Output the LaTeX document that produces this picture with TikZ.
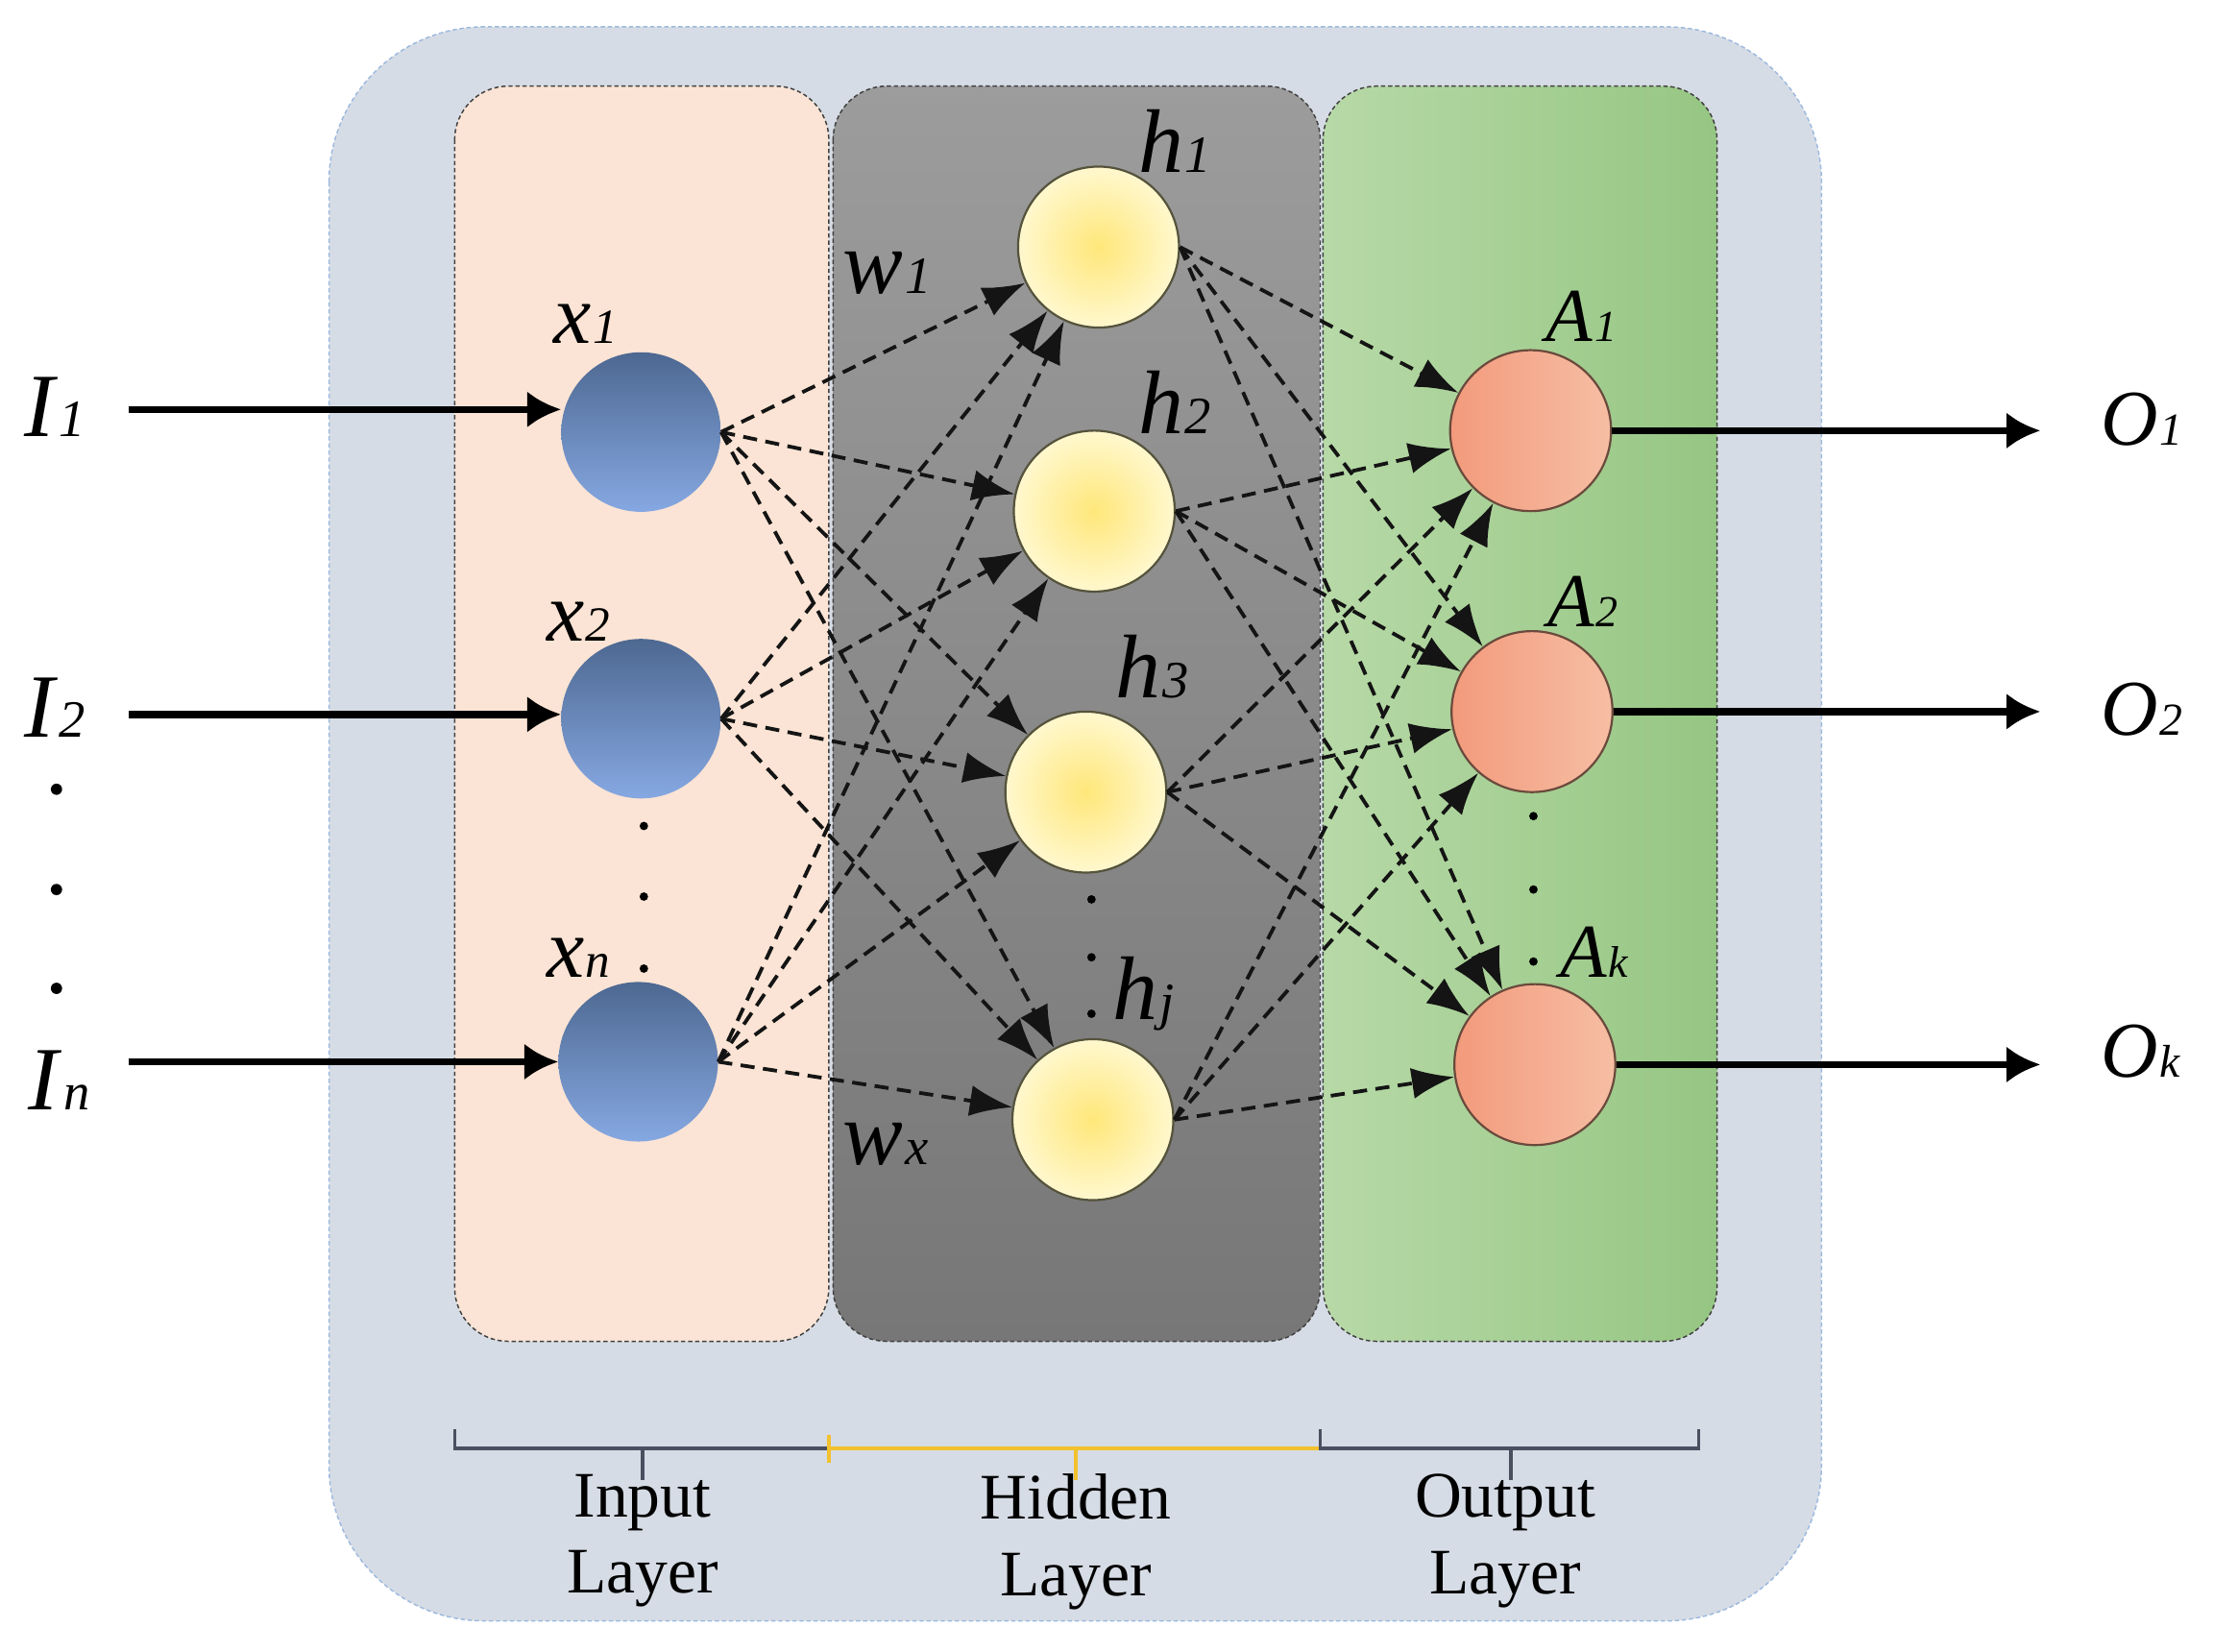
\documentclass[tikz,border=0pt]{standalone}
\usepackage{fontspec}
\setmainfont{Liberation Serif}
\usepackage{graphicx}
\usepackage{tikz}
\usetikzlibrary{arrows.meta}

\definecolor{bgouter}{HTML}{D6DCE5}
\definecolor{bgedge}{HTML}{9DB9DF}
\definecolor{inpanel}{HTML}{FBE4D5}
\definecolor{hidtop}{HTML}{9C9C9C}
\definecolor{hidbot}{HTML}{777777}
\definecolor{outleft}{HTML}{B7D9A7}
\definecolor{outright}{HTML}{96C683}
\definecolor{xtop}{HTML}{4D6891}
\definecolor{xbot}{HTML}{86A8E2}
\definecolor{hin}{HTML}{FFE77A}
\definecolor{hout}{HTML}{FFF8CE}
\definecolor{hedge}{HTML}{55533C}
\definecolor{aleft}{HTML}{F39A7C}
\definecolor{aright}{HTML}{F6BEA4}
\definecolor{aedge}{HTML}{6A4A3C}
\definecolor{bracegray}{HTML}{4A5060}
\definecolor{braceyellow}{HTML}{F2C12E}

\newcommand{\lsub}[2]{\textit{#1}\kern1pt\scalebox{0.58}{\textit{#2}}}

\tikzset{
    panel/.style={draw=black!75, line width=1pt, dash pattern=on 3pt off 2pt, rounded corners=38pt},
    xnode/.style={circle, minimum size=113pt, inner sep=0pt, top color=xtop, bottom color=xbot},
    hnode/.style={circle, minimum size=114pt, inner sep=0pt, draw=hedge, line width=1.5pt, inner color=hin, outer color=hout},
    anode/.style={circle, minimum size=114pt, inner sep=0pt, draw=aedge, line width=1.5pt, left color=aleft, right color=aright},
    conn/.style={-{Latex[length=30pt,width=22pt]}, line width=2.6pt, dash pattern=on 10pt off 6pt, draw=black!92},
    bigarrow/.style={-{Latex[length=24pt,width=26pt]}, line width=5pt},
    lbl/.style={inner sep=0pt, anchor=base west},
    ilab/.style={lbl, font=\fontsize{64}{70}\selectfont},
    olab/.style={lbl, font=\fontsize{56}{60}\selectfont},
    xlab/.style={lbl, font=\fontsize{60}{64}\selectfont},
    hlab/.style={lbl, font=\fontsize{64}{70}\selectfont},
    wlab/.style={lbl, font=\fontsize{64}{70}\selectfont},
    alab/.style={lbl, font=\fontsize{54}{60}\selectfont},
    braceline/.style={line width=2.5pt},
    layertext/.style={align=center, anchor=north, inner sep=0pt, font=\fontsize{46}{54}\selectfont},
}

\begin{document}
\begin{tikzpicture}[x=1pt,y=-1pt]
    \useasboundingbox (0,0) rectangle (1568,1170);
    \draw[bgedge, fill=bgouter, line width=1pt, dash pattern=on 3pt off 2pt, rounded corners=110pt]
        (233,19) rectangle (1290,1148);
    \draw[panel, fill=inpanel] (322,61) rectangle (587,950);
    \draw[panel, top color=hidtop, bottom color=hidbot] (590,61) rectangle (935,950);
    \draw[panel, left color=outleft, right color=outright] (937,61) rectangle (1216,950);

    \node (X1) [xnode] at (454,306) {};
    \node (X2) [xnode] at (454,509) {};
    \node (Xn) [xnode] at (452,752) {};
    \node (H1) [hnode] at (778,175) {};
    \node (H2) [hnode] at (775,362) {};
    \node (H3) [hnode] at (769,561) {};
    \node (Hj) [hnode] at (774,793) {};
    \node (A1) [anode] at (1084,305) {};
    \node (A2) [anode] at (1085,504) {};
    \node (Ak) [anode] at (1087,754) {};

    \node (I1) [ilab] at (17,309) {\lsub{I}{1}};
    \node (I2) [ilab] at (17,522) {\lsub{I}{2}};
    \node (In) [ilab] at (20,786) {\lsub{I}{n}};
    \node (O1) [olab] at (1488,315) {\lsub{O}{1}};
    \node (O2) [olab] at (1488,521) {\lsub{O}{2}};
    \node (Ok) [olab] at (1488,763) {\lsub{O}{k}};
    \node (lX1) [xlab] at (392,243) {\lsub{x}{1}};
    \node (lX2) [xlab] at (387,454) {\lsub{x}{2}};
    \node (lXn) [xlab] at (387,692) {\lsub{x}{n}};
    \node (lH1) [hlab] at (806,122) {\lsub{h}{1}};
    \node (lH2) [hlab] at (806,307) {\lsub{h}{2}};
    \node (lH3) [hlab] at (790,494) {\lsub{h}{3}};
    \node (lHj) [hlab] at (788,722) {\lsub{h}{j}};
    \node (lA1) [alab] at (1095,242) {\lsub{A}{1}};
    \node (lA2) [alab] at (1096,444) {\lsub{A}{2}};
    \node (lAk) [alab] at (1105,692) {\lsub{A}{k}};
    \node (w1) [wlab] at (597,208) {\lsub{w}{1}};
    \node (wx) [wlab] at (597,825) {\lsub{w}{x}};

    \coordinate (i1) at (91,290);
    \coordinate (i2) at (91,506);
    \coordinate (in) at (91,752);
    \draw[bigarrow] (i1) -- (i1 -| X1.west);
    \draw[bigarrow] (i2) -- (i2 -| X2.west);
    \draw[bigarrow] (in) -- (in -| Xn.west);
    \draw[bigarrow, shorten >=43pt] (A1.east) -- (A1.east -| O1.west);
    \draw[bigarrow, shorten >=43pt] (A2.east) -- (A2.east -| O2.west);
    \draw[bigarrow, shorten >=43pt] (Ak.east) -- (Ak.east -| Ok.west);

    \foreach \s in {X1,X2,Xn} {
        \foreach \t in {H1,H2,H3,Hj} {\draw[conn] (\s.east) -- (\t);}
    }
    \foreach \s in {H1,H2,H3,Hj} {
        \foreach \t in {A1,A2,Ak} {\draw[conn] (\s.east) -- (\t);}
    }

    \fill (40,559) circle (4) (40,630) circle (4) (40,700) circle (4);
    \fill (456,585) circle (3) (456,635) circle (3) (456,686) circle (3);
    \fill (773,637) circle (3) (773,678) circle (3) (773,718) circle (3);
    \fill (1086,578) circle (3) (1086,630) circle (3) (1086,681) circle (3);

    \draw[braceline, bracegray] (322,1012) -- (322,1026) -- (587,1026) (455,1026) -- (455,1048);
    \draw[braceline, braceyellow] (587,1016) -- (587,1036) (587,1026) -- (935,1026) (762,1026) -- (762,1048);
    \draw[braceline, bracegray] (935,1012) -- (935,1026) -- (1203,1026) -- (1203,1012) (1070,1026) -- (1070,1048);

    \node (tIn) [layertext] at (455,1044) {Input\\Layer};
    \node (tHid) [layertext] at (762,1044) {Hidden\\Layer};
    \node (tOut) [layertext] at (1066,1044) {Output\\Layer};
\end{tikzpicture}
\end{document}
